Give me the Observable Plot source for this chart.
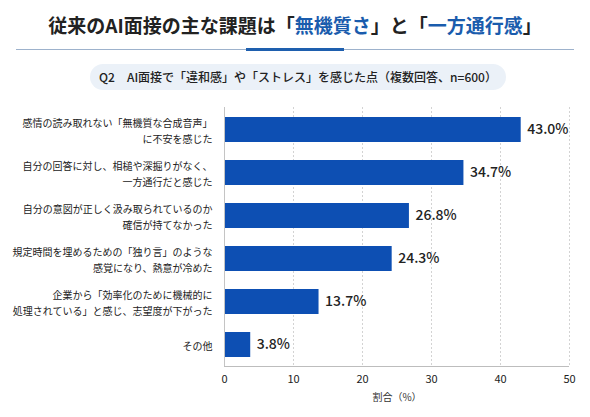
<!DOCTYPE html>
<html>
<head>
<meta charset="utf-8">
<script src="https://cdn.jsdelivr.net/npm/d3@7"></script>
<script src="https://cdn.jsdelivr.net/npm/@observablehq/plot@0.6"></script>
<style>
  html, body { margin: 0; padding: 0; background: #fff; }
  #wrap { position: relative; width: 590px; height: 417px; font-family: "Noto Sans CJK JP", "Noto Sans", sans-serif; color: #222; overflow: hidden; }
  #title { position: absolute; left: 0; width: 590px; top: 12px; text-align: center; font-size: 19px; font-weight: 700; line-height: 26px; color: #222; }
  #title .hl { color: #1a5cad; }
  #rule { position: absolute; left: 16px; width: 558px; top: 49px; height: 1px; background: #9db2cc; }
  #rule2 { position: absolute; left: 246px; width: 98px; top: 48px; height: 3px; background: #1e5fae; }
  #pill { position: absolute; left: 90px; width: 416px; top: 64px; height: 26px; border-radius: 13px; background: #ebf1f8; text-align: center; font-size: 12px; line-height: 26px; font-weight: 500; color: #222; }
  #chart { position: absolute; left: 0; top: 98px; }
</style>
</head>
<body>
<div id="wrap">
  <div id="title">従来のAI面接の主な課題は「<span class="hl">無機質さ</span>」と「<span class="hl">一方通行感</span>」</div>
  <div id="rule"></div>
  <div id="rule2"></div>
  <div id="pill">Q2　AI面接で「違和感」や「ストレス」を感じた点（複数回答、n=600）</div>
  <div id="chart"></div>
</div>
<script>
const categories = [
  "感情の読み取れない「無機質な合成音声」\nに不安を感じた",
  "自分の回答に対し、相槌や深掘りがなく、\n一方通行だと感じた",
  "自分の意図が正しく汲み取られているのか\n確信が持てなかった",
  "規定時間を埋めるための「独り言」のような\n感覚になり、熱意が冷めた",
  "企業から「効率化のために機械的に\n処理されている」と感じ、志望度が下がった",
  "その他"
];
const values = [43.0, 34.7, 26.8, 24.3, 13.7, 3.8];
const xTicks = [0, 10, 20, 30, 40, 50];
const xLabel = "割合（%）";

const data = categories.map((c, i) => ({category: c, value: values[i]}));

const chart = Plot.plot({
  width: 590,
  height: 319,
  marginLeft: 224,
  marginRight: 21,
  marginTop: 9,
  marginBottom: 51,
  style: {fontFamily: "'Noto Sans CJK JP', 'Noto Sans', sans-serif", color: "#222", background: "transparent"},
  x: {domain: [0, 50], ticks: xTicks},
  y: {domain: categories, paddingInner: 0.42, paddingOuter: 0.2},
  marks: [
    Plot.gridX(xTicks.slice(1), {stroke: "#c8c8c8", strokeOpacity: 1, strokeDasharray: "2,2", strokeWidth: 0.8}),
    Plot.barX(data, {x: "value", y: "category", fill: "#0d4fb3"}),
    Plot.ruleX([0], {stroke: "#c4c4c4", strokeWidth: 1}),
    Plot.axisX({ticks: xTicks, tickSize: 0, tickPadding: 9, fontSize: 11, label: null, tickFormat: d => String(d)}),
    Plot.axisY({tickSize: 0, tickPadding: 12, fontSize: 10, lineHeight: 1.55, label: null, fill: "#222"}),
    Plot.text(data, {x: "value", y: "category", text: d => d.value.toFixed(1) + "%", textAnchor: "start", dx: 6, fontSize: 14, fontWeight: 500, fill: "#222"}),
    Plot.text([xLabel], {frameAnchor: "bottom", dy: 34, fontSize: 10, fill: "#333"})
  ]
});
document.getElementById("chart").appendChild(chart);
const svg = d3.select(chart);
svg.append("line")
  .attr("x1", 224).attr("x2", 569)
  .attr("y1", 268.5).attr("y2", 268.5)
  .attr("stroke", "#bdbdbd").attr("stroke-width", 1.2);
</script>
</body>
</html>
